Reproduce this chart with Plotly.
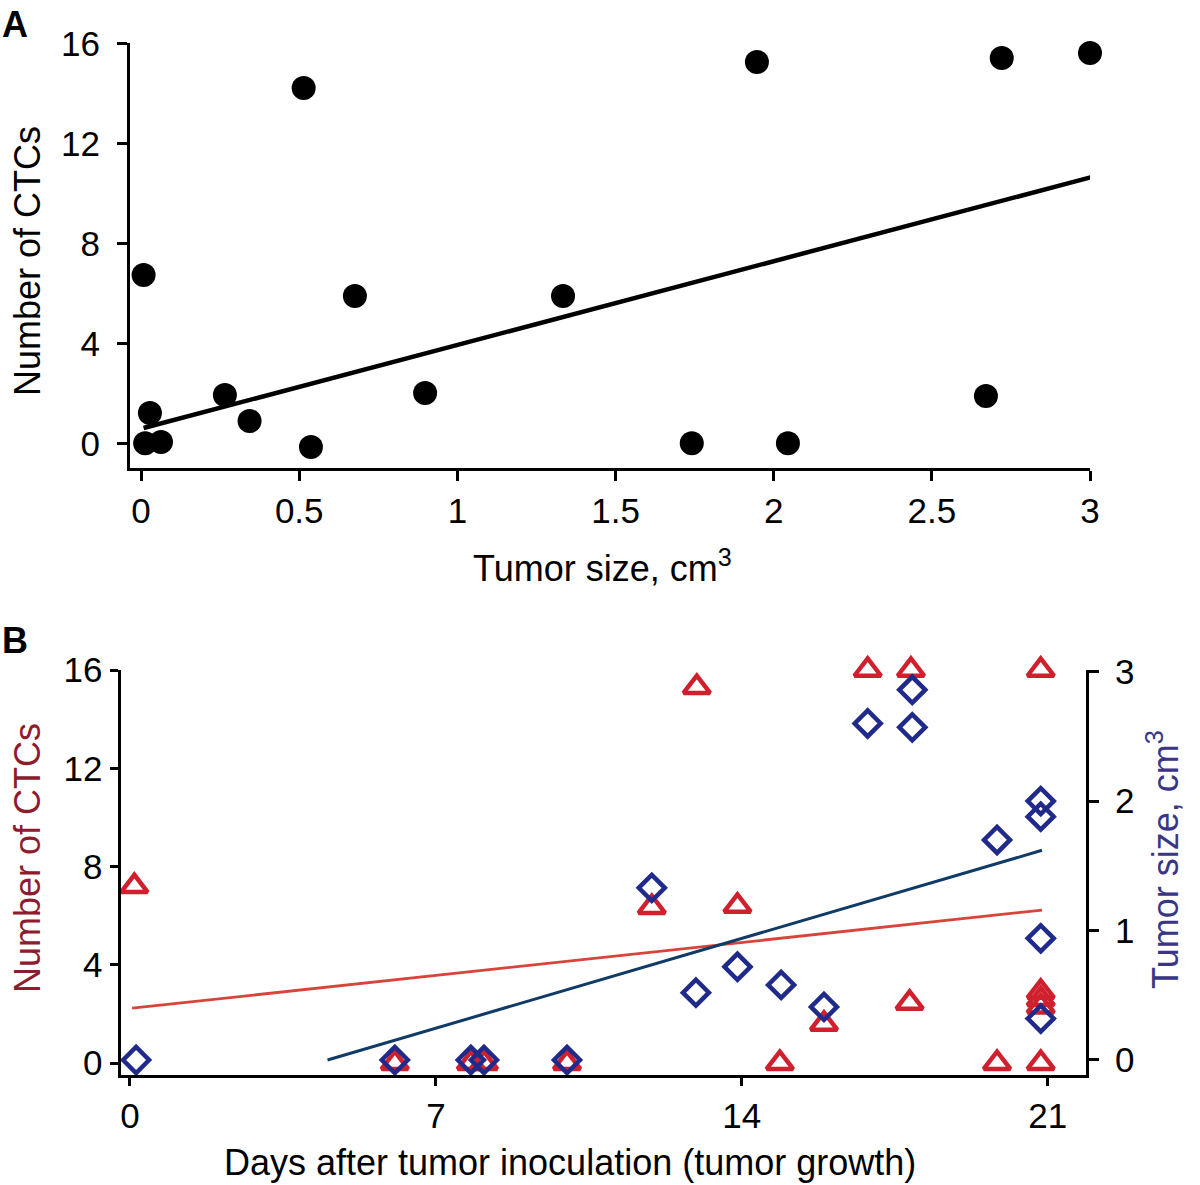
import plotly.graph_objects as go

# ---------------- Panel A data ----------------
tumor_size_a = [0.008, 0.013, 0.028, 0.063, 0.265, 0.343, 0.514, 0.537, 0.676, 0.898,
                1.334, 1.741, 1.947, 2.045, 2.671, 2.721, 3.0]
ctc_a = [6.73, 0.0, 1.21, 0.05, 1.93, 0.89, 14.21, -0.15, 5.89, 2.01,
         5.89, 0.0, 15.25, 0.0, 1.89, 15.41, 15.61]
fit_a_x = [0.008, 3.017]
fit_a_y = [0.61, 10.69]
xticks_a = [0, 0.5, 1, 1.5, 2, 2.5, 3]
xticklabels_a = ["0", "0.5", "1", "1.5", "2", "2.5", "3"]
yticks_a = [0, 4, 8, 12, 16]

# ---------------- Panel B data ----------------
days_ctc = [0.1, 6.06, 7.8, 8.1, 10.0, 11.94, 12.97, 13.9, 14.87, 15.88,
            16.88, 17.87, 17.84, 19.84, 20.84, 20.84, 20.84, 20.84, 20.84]
ctc_b = [7.2, 0.0, 0.0, 0.0, 0.0, 6.35, 15.3, 6.4, 0.0, 1.6,
         16.0, 16.0, 2.45, 0.0, 0.0, 16.0, 2.9, 2.6, 2.3]
days_size = [0.14, 6.06, 7.8, 8.1, 10.0, 11.94, 12.95, 13.9, 14.9, 15.88,
             16.88, 17.9, 17.9, 19.84, 20.84, 20.84, 20.84, 20.84]
size_b = [0.0, 0.0, 0.0, 0.0, 0.0, 1.33, 0.52, 0.72, 0.58, 0.41,
          2.6, 2.86, 2.57, 1.70, 2.0, 1.88, 0.94, 0.32]
fit_ctc_x = [0.05, 20.87]
fit_ctc_y = [2.24, 6.23]
fit_size_x = [4.52, 20.87]
fit_size_y = [0.0, 1.62]
xticks_b = [0, 7, 14, 21]
yticks_b_left = [0, 4, 8, 12, 16]
yticks_b_right = [0, 1, 2, 3]

W, H = 1200, 1185
FONT = "Liberation Sans, Arial, sans-serif"
TICK_SIZE = 35
TITLE_SIZE = 36
RED = "#D0202E"
RED_LINE = "#D8443A"
BLUE = "#1F2A8A"
BLUE_LINE = "#0F3B66"
RED_TITLE = "#8E1B2E"
BLUE_TITLE = "#3A3685"


def px_x(p):
    return p / W


def px_y(p):
    return 1 - p / H


fig = go.Figure()

# Panel A
fig.add_trace(go.Scatter(x=fit_a_x, y=fit_a_y, mode="lines",
                         line=dict(color="black", width=4.5),
                         xaxis="x", yaxis="y", showlegend=False, cliponaxis=False))
fig.add_trace(go.Scatter(x=tumor_size_a, y=ctc_a, mode="markers",
                         marker=dict(symbol="circle", size=24, color="black"),
                         xaxis="x", yaxis="y", showlegend=False, cliponaxis=False))

# Panel B
fig.add_trace(go.Scatter(x=fit_ctc_x, y=fit_ctc_y, mode="lines",
                         line=dict(color=RED_LINE, width=2.8),
                         xaxis="x2", yaxis="y2", showlegend=False, cliponaxis=False))
fig.add_trace(go.Scatter(x=days_ctc, y=ctc_b, mode="markers",
                         marker=dict(symbol="triangle-up-open", size=23,
                                     color=RED, line=dict(color=RED, width=4.5)),
                         xaxis="x2", yaxis="y2", showlegend=False, cliponaxis=False))
fig.add_trace(go.Scatter(x=fit_size_x, y=fit_size_y, mode="lines",
                         line=dict(color=BLUE_LINE, width=3),
                         xaxis="x2", yaxis="y3", showlegend=False, cliponaxis=False))
fig.add_trace(go.Scatter(x=days_size, y=size_b, mode="markers",
                         marker=dict(symbol="diamond-open", size=20,
                                     color=BLUE, line=dict(color=BLUE, width=4.5)),
                         xaxis="x2", yaxis="y3", showlegend=False, cliponaxis=False))


def axis_style(ticklen=10, standoff=0):
    return dict(showline=True, linecolor="black", linewidth=3,
                ticks="outside", ticklen=ticklen, tickwidth=3, tickcolor="black",
                showgrid=False, zeroline=False, automargin=False,
                ticklabelstandoff=standoff,
                tickfont=dict(family=FONT, size=TICK_SIZE, color="black"))


fig.update_layout(
    template="none",
    width=W, height=H, autosize=False,
    margin=dict(l=0, r=0, t=0, b=0, pad=0),
    paper_bgcolor="white", plot_bgcolor="white",
    xaxis=dict(domain=[px_x(130), px_x(1090)], range=[-0.035, 3.0],
               tickvals=xticks_a, ticktext=xticklabels_a, anchor="y",
               **axis_style(10, 0)),
    yaxis=dict(domain=[px_y(468.3), px_y(43.3)], range=[-1.0, 16],
               tickvals=yticks_a, anchor="x", **axis_style(10, 10)),
    xaxis2=dict(domain=[px_x(120.5), px_x(1086)], range=[-0.217, 21.876],
                tickvals=xticks_b, anchor="y2", **axis_style(8, 0)),
    yaxis2=dict(domain=[px_y(1075), px_y(670)], range=[-0.48, 16],
                tickvals=yticks_b_left, anchor="x2", **axis_style(8, 0)),
    yaxis3=dict(domain=[px_y(1075), px_y(670)], range=[-0.116, 3.013],
                tickvals=yticks_b_right, overlaying="y2", side="right",
                anchor="x2", **axis_style(10, 9)),
)

ann = []
# Panel letters
ann.append(dict(text="<b>A</b>", x=px_x(0), y=px_y(2), xanchor="left", yanchor="top",
                font=dict(family=FONT, size=36, color="black")))
ann.append(dict(text="<b>B</b>", x=px_x(0), y=px_y(618), xanchor="left", yanchor="top",
                font=dict(family=FONT, size=36, color="black")))
# Panel A titles
ann.append(dict(text="Number of CTCs", x=px_x(27), y=px_y(261), textangle=-90,
                xanchor="center", yanchor="middle",
                font=dict(family=FONT, size=TITLE_SIZE, color="black")))
ann.append(dict(text="Tumor size, cm<sup>3</sup>", x=px_x(602), y=px_y(566),
                xanchor="center", yanchor="middle",
                font=dict(family=FONT, size=TITLE_SIZE, color="black")))
# Panel B titles
ann.append(dict(text="Number of CTCs", x=px_x(27), y=px_y(858), textangle=-90,
                xanchor="center", yanchor="middle",
                font=dict(family=FONT, size=TITLE_SIZE, color=RED_TITLE)))
ann.append(dict(text="Tumor size, cm<sup>3</sup>", x=px_x(1163), y=px_y(860), textangle=-90,
                xanchor="center", yanchor="middle",
                font=dict(family=FONT, size=TITLE_SIZE, color=BLUE_TITLE)))
ann.append(dict(text="Days after tumor inoculation (tumor growth)", x=px_x(570), y=px_y(1162),
                xanchor="center", yanchor="middle",
                font=dict(family=FONT, size=TITLE_SIZE, color="black")))

for a in ann:
    a.update(xref="paper", yref="paper", showarrow=False)
fig.update_layout(annotations=ann)

fig.write_html("out.html",
               config={"displayModeBar": False},
               post_script="document.body.style.margin='0';document.body.style.overflow='hidden';")
